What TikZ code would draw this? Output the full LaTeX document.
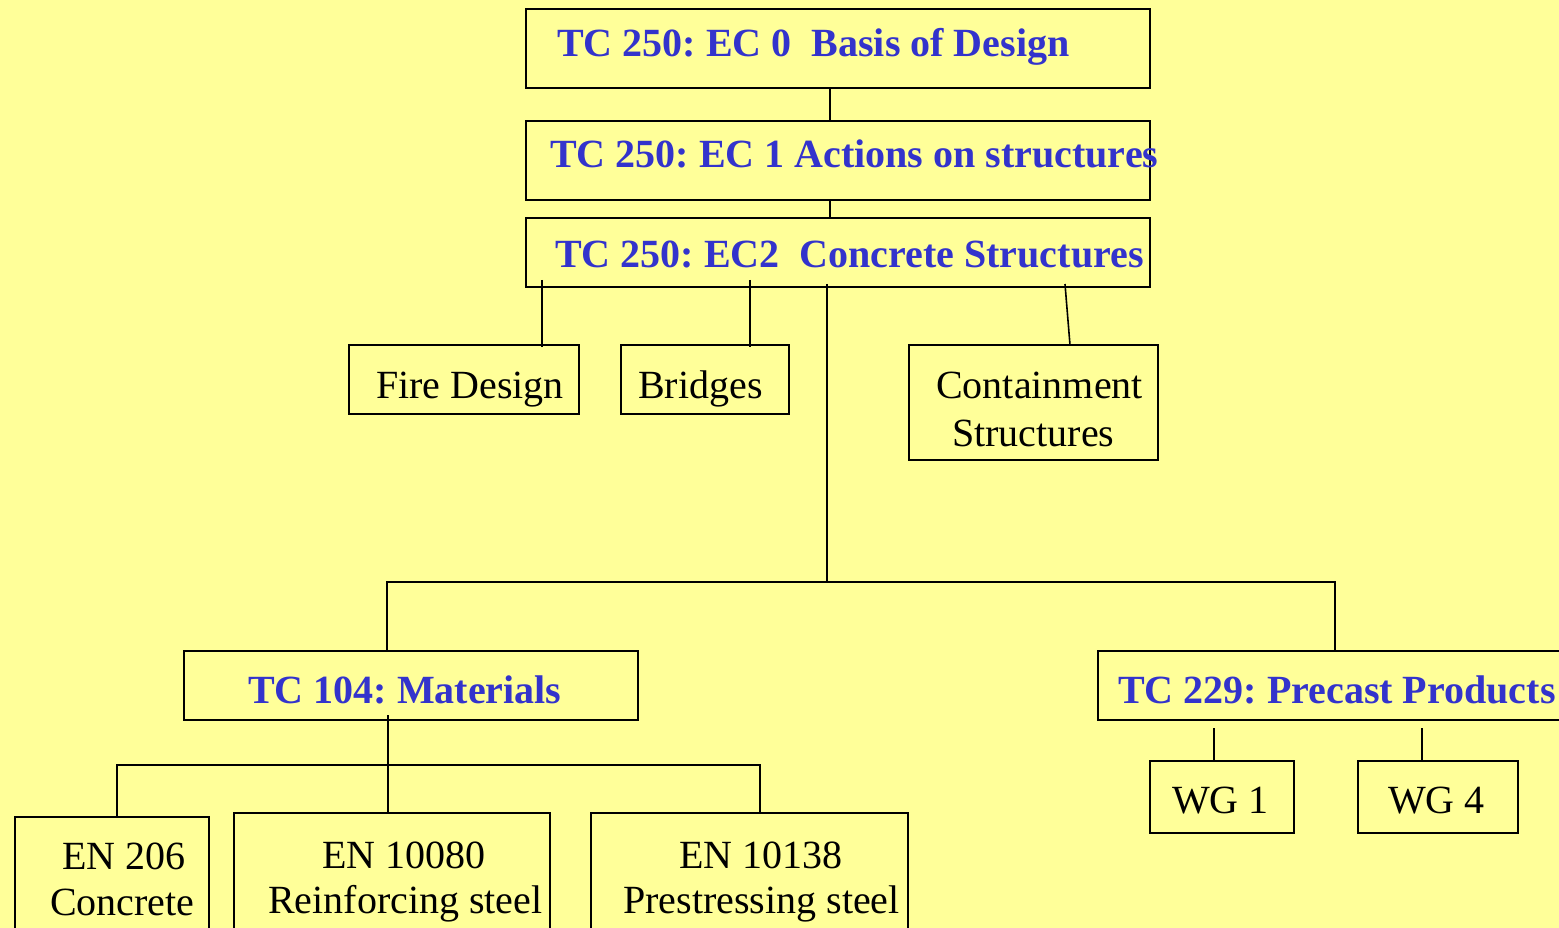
\documentclass[tikz,border=0pt]{standalone}
\usepackage{fontspec}
\setmainfont{Liberation Serif}
\usetikzlibrary{calc}
\definecolor{bg}{RGB}{255,255,153}
\definecolor{tcblue}{RGB}{51,51,204}
\frenchspacing
\begin{document}
\begin{tikzpicture}[x=1pt,y=-1pt,
  box/.style={draw=black, line width=2.4pt, inner sep=0pt, outer sep=0pt, anchor=north west},
  thinbox/.style={box, line width=1.6pt},
  conn/.style={draw=black, line width=1.6pt},
  btxt/.style={text=tcblue, font=\fontsize{40}{46}\selectfont\bfseries, anchor=base west, inner sep=0pt},
  ktxt/.style={text=black, font=\fontsize{40}{46}\selectfont, anchor=base west, inner sep=0pt}]
\useasboundingbox (0,0) rectangle (1559,928);
\fill[bg] (0,0) rectangle (1559,928);
\clip (0,0) rectangle (1559,928);

% boxes
\node[box, minimum width=624, minimum height=79] (ec0) at (526,9) {};
\node[thinbox, minimum width=624, minimum height=79] (ec1) at (526,121) {};
\node[box, minimum width=624, minimum height=69] (ec2) at (526,218) {};
\node[box, minimum width=230, minimum height=69] (fire) at (349,345) {};
\node[box, minimum width=168, minimum height=69] (bridges) at (621,345) {};
\node[box, minimum width=249, minimum height=115] (cont) at (909,345) {};
\node[box, minimum width=454, minimum height=69] (tc104) at (184,651) {};
\node[box, minimum width=480, minimum height=69] (tc229) at (1098,651) {};
\node[box, minimum width=194, minimum height=150] (en206) at (15,817) {};
\node[box, minimum width=316, minimum height=150] (en10080) at (234,813) {};
\node[box, minimum width=317, minimum height=150] (en10138) at (591,813) {};
\node[box, minimum width=144, minimum height=72] (wg1) at (1150,761) {};
\node[box, minimum width=160, minimum height=72] (wg4) at (1358,761) {};

% texts
\node[btxt] (t0) at (557,57) {TC 250: EC 0\ \ Basis of Design};
\node[btxt] (t1) at (550,168) {TC 250: EC 1 Actions on structures};
\node[btxt] (t2) at (555,268) {TC 250: EC2\ \ Concrete Structures};
\node[ktxt] (tf) at (376,398) {Fire Design};
\node[ktxt] (tb) at (638,398) {Bridges};
\node[ktxt] (tc1) at (936,398) {Containment};
\node[ktxt] (tc2) at (952,446) {Structures};
\node[btxt] (t104) at (248,703) {TC 104: Materials};
\node[btxt] (t229) at (1118,703) {TC 229: Precast Products};
\node[ktxt] (ta1) at (62,869) {EN 206};
\node[ktxt] (ta2) at (50,915) {Concrete};
\node[ktxt] (tr1) at (322,868) {EN 10080};
\node[ktxt] (tr2) at (268,913) {Reinforcing steel};
\node[ktxt] (tp1) at (679,868) {EN 10138};
\node[ktxt] (tp2) at (623,913) {Prestressing steel};
\node[ktxt] (tw1) at (1172,813) {WG 1};
\node[ktxt] (tw4) at (1388,813) {WG 4};

% connectors
\coordinate (hub) at (827,582);
\coordinate (hub2) at (388,765);
\draw[conn] ([xshift=-8]ec0.south) -- ([xshift=-8]ec1.north);
\draw[conn] ([xshift=-8]ec1.south) -- ([xshift=-8]ec2.north);
\draw[conn] ($(ec2.south west)+(16,-7)$) coordinate (f0) -- ($(f0 |- fire.north)+(0,2)$);
\draw[conn] ($(ec2.south west)+(224,-7)$) coordinate (b0) -- ($(b0 |- bridges.north)+(0,2)$);
\draw[conn] ($(ec2.south west)+(539,-3)$) -- ($(cont.north west)+(161,0)$);
\draw[conn] ($(ec2.south west)+(301,-3)$) -- (hub);
\draw[conn] ([xshift=-24]tc104.north) |- (hub) -| ([xshift=-3]tc229.north);
\draw[conn] ($(tc104.south)+(-23,-5)$) coordinate (m0) -- (m0 |- en10080.north);
\draw[conn] ([xshift=5]en206.north) |- (hub2) -| ([xshift=10.5]en10138.north);
\draw[conn] ($(wg1.north)+(-8,0)$) -- ($(wg1.north)+(-8,-33)$);
\draw[conn] ($(wg4.north)+(-16,0)$) -- ($(wg4.north)+(-16,-33)$);
\end{tikzpicture}
\end{document}
